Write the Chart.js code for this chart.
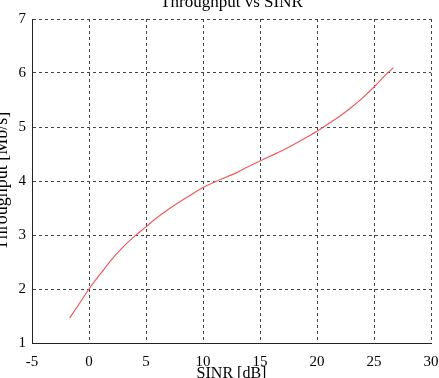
<!DOCTYPE html>
<html>
<head>
<meta charset="utf-8">
<title>Throughput vs SINR</title>
<script src="https://cdn.jsdelivr.net/npm/chart.js@4.4.1/dist/chart.umd.min.js"></script>
<style>
  html, body { margin: 0; padding: 0; background: #fff; }
  #wrap { width: 439px; height: 378px; }
</style>
</head>
<body>
<div id="wrap"><canvas id="myChart" width="439" height="378"></canvas></div>
<script>
// values
const sinrDb = [-1.7, -1, 0, 1, 2, 3, 4, 5, 6, 7, 8, 9, 10, 11, 12, 13, 14, 15, 16, 17, 18, 19, 20, 21, 22, 23, 24, 25, 26, 26.7];
const throughput = [1.46, 1.68, 2.0, 2.28, 2.55, 2.78, 2.98, 3.15, 3.33, 3.48, 3.62, 3.75, 3.88, 3.98, 4.07, 4.16, 4.27, 4.37, 4.47, 4.57, 4.68, 4.80, 4.92, 5.06, 5.20, 5.36, 5.54, 5.74, 5.96, 6.10];
const xRange = [-5, 30];
const yRange = [1, 7];

const points = sinrDb.map((x, i) => ({ x: x, y: throughput[i] }));
const serif = "'Liberation Serif', 'DejaVu Serif', serif";
const gridDash = [3, 3];

const ctx = document.getElementById('myChart').getContext('2d');
const myChart = new Chart(ctx, {
    type: 'scatter',
    data: {
        datasets: [
            {
                label: 'Throughput',
                data: points,
                showLine: true,
                borderColor: 'rgb(235, 92, 92)',
                backgroundColor: 'rgb(235, 92, 92)',
                borderWidth: 1.2,
                pointRadius: 0,
                cubicInterpolationMode: 'monotone'
            }
        ]
    },
    options: {
        responsive: false,
        animation: false,
        layout: { padding: 0 },
        plugins: {
            legend: { display: false },
            tooltip: { enabled: false }
        },
        scales: {
            x: {
                type: 'linear',
                min: xRange[0],
                max: xRange[1],
                afterFit: (scale) => {
                    scale.height = 35;
                    // keep the plot right edge where the reference has it
                    scale.paddingLeft = 0;
                    scale.paddingRight = 8;
                },
                ticks: {
                    stepSize: 5,
                    color: '#000',
                    padding: 10,
                    maxRotation: 0,
                    font: { family: serif, size: 15 }
                },
                grid: {
                    color: '#444',
                    lineWidth: 1,
                    drawTicks: false
                },
                border: { display: true, color: '#222', width: 1, dash: gridDash },
                title: {
                    display: true,
                    text: 'SINR [dB]',
                    color: '#000',
                    font: { family: serif, size: 16 },
                    padding: { bottom: -5 }
                }
            },
            // top axis only carries the chart title, centred over the plot area
            top: {
                type: 'linear',
                position: 'top',
                min: xRange[0],
                max: xRange[1],
                afterFit: (scale) => { scale.height = 19; },
                ticks: { display: false },
                grid: { display: false, drawTicks: false },
                border: { display: false },
                title: {
                    display: true,
                    text: 'Throughput vs SINR',
                    color: '#000',
                    font: { family: serif, size: 17 },
                    padding: { top: -8 }
                }
            },
            y: {
                min: yRange[0],
                max: yRange[1],
                afterFit: (scale) => { scale.width = 32; },
                ticks: {
                    stepSize: 1,
                    color: '#000',
                    padding: 6,
                    font: { family: serif, size: 15 }
                },
                grid: {
                    color: '#444',
                    lineWidth: 1,
                    drawTicks: false
                },
                border: { display: true, color: '#222', width: 1, dash: gridDash },
                title: {
                    display: true,
                    text: 'Throughput [Mb/s]',
                    color: '#000',
                    font: { family: serif, size: 18 },
                    padding: { top: -9 }
                }
            }
        }
    }
});
</script>
</body>
</html>
